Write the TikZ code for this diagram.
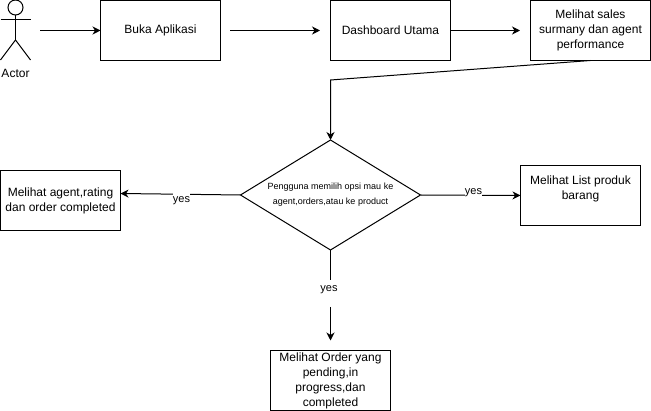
\documentclass[tikz,border=0pt]{standalone}
\usepackage{fontspec}
\setmainfont{Liberation Sans}
\usetikzlibrary{arrows.meta,shapes.geometric}
\tikzset{
  every node/.style={outer sep=0pt},
  stepbox/.style={draw=black,line width=1pt,fill=white,minimum width=120pt,minimum height=60pt,inner sep=0pt,align=center,font=\fontsize{12}{15}\selectfont},
  choice/.style={draw=black,line width=1pt,fill=white,diamond,aspect=1.636,minimum width=180pt,minimum height=110pt,inner sep=0pt,align=center,font=\fontsize{9}{15}\selectfont},
  edgetext/.style={fill=white,inner sep=0pt,minimum height=18pt,font=\fontsize{11}{15}\selectfont},
  flow/.style={draw=black,line width=1pt,-{Stealth[length=8pt,width=8pt,inset=2.5pt]}},
  plainline/.style={draw=black,line width=1pt},
}
\begin{document}
\begin{tikzpicture}[x=1pt,y=-1pt]
\useasboundingbox (0,0) rectangle (651,411);
% actor
\node[circle,draw=black,line width=1pt,minimum size=15pt,inner sep=0pt] (head) at (15.5,7.5) {};
\coordinate (hip) at (15.5,40);
\coordinate (armL) at (0.5,20);
\coordinate (armR) at (30.5,20);
\coordinate (legL) at (0.5,60);
\coordinate (legR) at (30.5,60);
\draw[plainline] (head.south) -- (hip);
\draw[plainline] (armL) -- (armR);
\draw[plainline] (legL) -- (hip) -- (legR);
\node[font=\fontsize{12}{15}\selectfont] (actor) at (15.5,73.5) {Actor};
% boxes
\node[stepbox] (buka) at (160.5,30.5) {Buka Aplikasi};
\node[stepbox] (dash) at (390.5,30.5) {Dashboard Utama};
\node[stepbox] (sales) at (590.5,30.5) {\raisebox{-1pt}{Melihat sales}\\\raisebox{-1pt}{surmany dan agent}\\\raisebox{-1pt}{performance}};
\node[choice] (pilih) at (330.5,195) {Pengguna memilih opsi mau ke\\agent,orders,atau ke product};
\node[stepbox] (agent) at (60.5,201) {Melihat agent,rating\\dan order completed};
\node[stepbox] (produk) at (580.5,195.5) {Melihat List produk\\barang\\~};
\node[stepbox] (order) at (330.5,380.5) {Melihat Order yang\\pending,in\\progress,dan\\completed};
% free ends
\coordinate (a1) at (40,30.5);
\coordinate (b1) at (230,30.5);
\coordinate (b2) at (320,30.5);
\coordinate (c2) at (520,30.5);
\coordinate (bend) at (330.5,80);
\coordinate (d1) at (330.5,307);
\coordinate (d2) at (330.5,340.5);
\coordinate (e2) at (120.5,193.5);
% connectors
\draw[flow] (a1) -- (buka.west);
\draw[flow] (b1) -- (b2);
\draw[flow] (dash.east) -- (c2);
\draw[flow] (sales.south) -- (bend) -- (pilih.north);
\draw[flow] (pilih.west) -- (e2);
\draw[flow] (pilih.east) -- (produk.west);
\node[edgetext] (yesL) at (181.5,200.5) {yes};
\node[edgetext] (yesR) at (473.5,192.5) {yes};
\node[edgetext] (yesD) at (329,289.5) {yes};
\draw[plainline] (pilih.south) -- (pilih.south |- yesD.north);
\draw[flow] (d1) -- (d2);
\end{tikzpicture}
\end{document}
